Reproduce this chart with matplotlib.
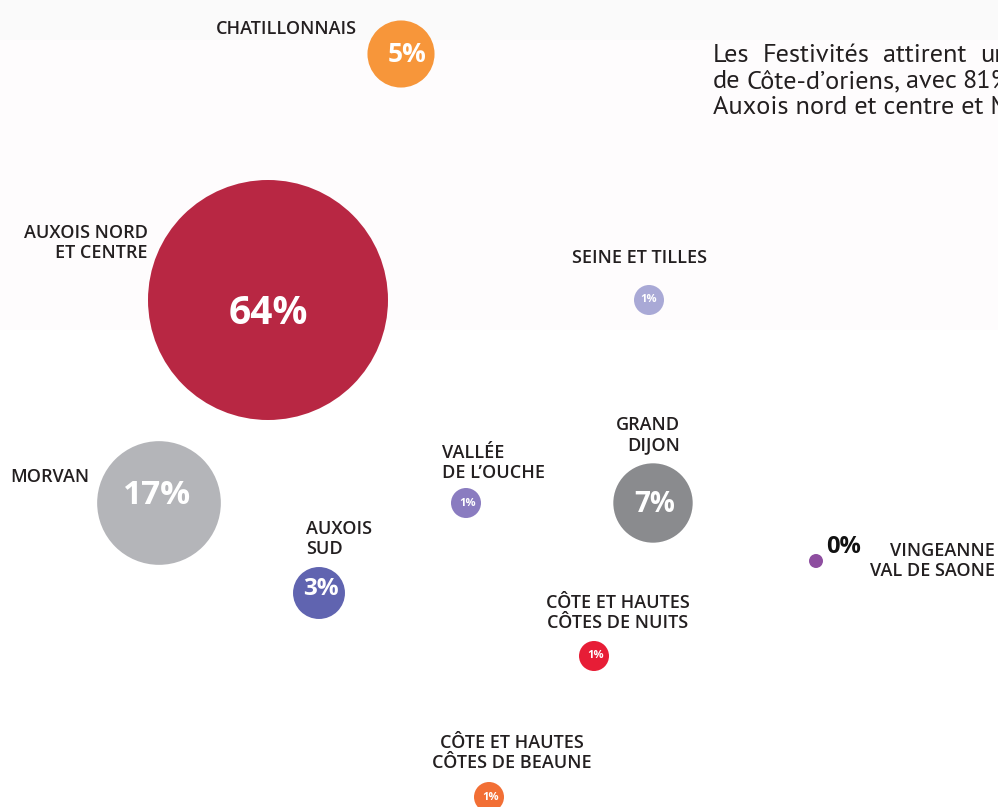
import matplotlib
matplotlib.use("Agg")
import matplotlib.pyplot as plt
import numpy as np

# ---- data ----
regions = ["CHATILLONNAIS", "AUXOIS NORD\nET CENTRE", "SEINE ET TILLES", "MORVAN",
           "AUXOIS\nSUD", "VALLÉE\nDE L’OUCHE", "GRAND\nDIJON", "VINGEANNE\nVAL DE SAONE",
           "CÔTE ET HAUTES\nCÔTES DE NUITS", "CÔTE ET HAUTES\nCÔTES DE BEAUNE"]
shares = [5, 64, 1, 17, 3, 1, 7, 0, 1, 1]
# map-like location of each region (x right, y down)
map_x = [401, 268, 649, 159, 319, 466, 653, 816, 594, 489]
map_y = [54, 300, 300, 503, 593, 503, 503, 561, 656, 797]
colors = ["#f7963a", "#b82743", "#a9a9d6", "#b4b5b9", "#6064b0", "#8a7cc0",
          "#8a8b8e", "#8e4ea0", "#e71d36", "#f26f35"]
intro_lines = [["Les", "Festivités", "attirent", "un"],
               ["de", "Côte-d’oriens,", "avec", "81%"],
               ["Auxois nord et centre et M"]]

# ---- layout (label placement) ----
label_pos = [(357, 29, "right"), (148, 243, "right"), (640, 258, "center"), (89, 477, "right"),
             (306, 539, "left"), (442, 463, "left"), (680, 435, "right"), (995, 561, "right"),
             (618, 613, "center"), (512, 753, "center")]
pct_size = [19, 28, 8, 24, 17.5, 8, 20, 17, 8, 8]
pct_dx = [6, 0, 0, -2, 2, 2, 2, 0, 2, 2]
pct_dy = [0, 14, 0, -8, -4, 0, 2, 0, 0, 0]
line_first_last = [(713, 980), (713, 962), (713, None)]

FONT = "Open Sans"
PARA_FONT = ["PT Sans", "Open Sans"]
fig = plt.figure(figsize=(9.98, 8.07), dpi=100)
ax = fig.add_axes([0, 0, 1, 1])
ax.set_xlim(0, 998)
ax.set_ylim(807, 0)
ax.axis("off")

# faint background bands
ax.axhspan(0, 40, color="#fafafa", zorder=0, lw=0)
ax.axhspan(40, 330, color="#fefcfd", zorder=0, lw=0)

px2pt = 72 / fig.dpi
k = 15.0  # radius (px) per sqrt(percent)
radii = np.maximum(k * np.sqrt(np.array(shares, float)), 7)
sizes = (2 * radii * px2pt) ** 2
ax.scatter(map_x, map_y, s=sizes, c=colors, linewidths=0, zorder=2)

for i, name in enumerate(regions):
    lx, ly, ha = label_pos[i]
    ax.text(lx, ly, name, ha=ha, va="center", multialignment=ha, fontsize=13,
            fontfamily=FONT, fontweight="semibold", color="#231f20", linespacing=1.18, zorder=3)
    if shares[i] > 0:
        ax.text(map_x[i] + pct_dx[i], map_y[i] + pct_dy[i], f"{shares[i]}%", ha="center", va="center",
                fontsize=pct_size[i], fontfamily=FONT, fontweight="bold", color="white", zorder=4)
    else:
        ax.text(map_x[i] + 10, map_y[i] - 14, f"{shares[i]}%", ha="left", va="center",
                fontsize=pct_size[i], fontfamily=FONT, fontweight="bold", color="#111111", zorder=4)

# descriptive text, justified, cut by the right edge as in the source
renderer = fig.canvas.get_renderer()
for li, words in enumerate(intro_lines):
    y = 55 + 26.5 * li
    x0, xl = line_first_last[li]
    arts = [ax.text(0, y, w, ha="left", va="center", fontsize=19,
                    fontfamily=PARA_FONT, color="#231f20") for w in words]
    if len(arts) == 1:
        arts[0].set_x(x0)
        continue
    widths = [a.get_window_extent(renderer).width for a in arts]
    gap = (xl - x0 - sum(widths[:-1])) / (len(arts) - 1)
    x = x0
    for a, w in zip(arts, widths):
        a.set_x(x)
        x += w + gap
    arts[-1].set_x(xl)

fig.savefig("out.png", dpi=100)
